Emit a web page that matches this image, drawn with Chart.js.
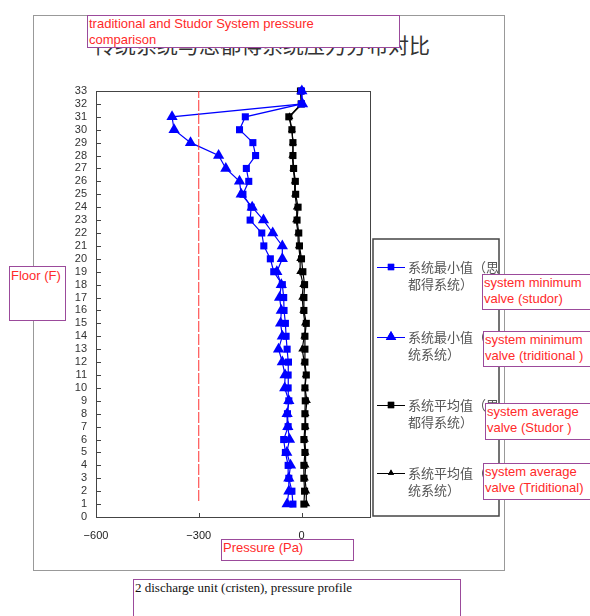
<!DOCTYPE html>
<html>
<head>
<meta charset="utf-8">
<script src="https://cdn.jsdelivr.net/npm/chart.js@4.4.1/dist/chart.umd.min.js"></script>
<style>
  html, body { margin: 0; padding: 0; background: #fff; }
  #wrap { position: relative; width: 590px; height: 616px; overflow: hidden; }
  #chart { position: absolute; left: 0; top: 0; }
  .frame { position: absolute; left: 33px; top: 15px; width: 470px; height: 554px; border: 1px solid #999; }
  .cn-title { position: absolute; left: 94px; top: 29px; font: 21px "Noto Sans CJK SC", sans-serif; color: #333; white-space: nowrap; }
  .note { position: absolute; background: #fff; border: 1.5px solid #9b4a9b; color: #ff2a2a;
          font: 13px "Liberation Sans", Arial, sans-serif; line-height: 16px; padding: 0 1px; box-sizing: border-box; white-space: nowrap; }
  .caption { position: absolute; left: 133px; top: 579px; width: 328px; height: 50px; border: 1.5px solid #9b4a9b; background: #fff;
             font: 13px "Liberation Serif", "Times New Roman", serif; color: #111; padding: 0 1px; box-sizing: border-box; }
</style>
</head>
<body>
<div id="wrap">
  <div class="frame"></div>
  <div class="cn-title">传统系统与思都得系统压力分布对比</div>
  <canvas id="chart" width="590" height="616"></canvas>
  <div class="note" style="left:87px;top:15px;width:313px;height:33px;">traditional and Studor System pressure<br>comparison</div>
  <div class="note" style="left:9px;top:266px;width:57px;height:55px;line-height:18px;">Floor (F)</div>
  <div class="note" style="left:221px;top:539px;width:133px;height:22px;">Pressure (Pa)</div>
  <div class="note" style="left:482px;top:274px;width:112px;height:36px;">system minimum<br>valve (studor)</div>
  <div class="note" style="left:483px;top:331px;width:112px;height:36px;">system minimum<br>valve (triditional )</div>
  <div class="note" style="left:485px;top:403px;width:110px;height:37px;">system average<br> valve (Studor )</div>
  <div class="note" style="left:483px;top:463px;width:112px;height:37px;">system average<br>valve (Triditional)</div>
  <div class="caption">2 discharge unit (cristen), pressure profile</div>
</div>
<script>
// floors 1..33 (bottom to top)
const floors = [1,2,3,4,5,6,7,8,9,10,11,12,13,14,15,16,17,18,19,20,21,22,23,24,25,26,27,28,29,30,31,32,33];

// system minimum, Studor (Pa)
const studorMin = [-25,-28,-37,-39,-47,-52,-39,-41,-37,-39,-39,-38,-42,-45,-47,-51,-52,-56,-81,-91,
                   -110,-116,-150,-147,-171,-154,-161,-134,-142,-181,-164,0,0];
// system minimum, traditional (Pa)
const tradMin = [-42,-37,-37,-32,-43,-35,-40,-42,-37,-49,-48,-56,-67,-56,-61,-59,-64,-59,-72,-56,
                 -56,-84,-111,-144,-176,-181,-221,-242,-324,-372,-378,3,1];
// system average, Studor (Pa)
const studorAvg = [7,9,7,7,10,7,10,10,11,10,14,10,10,10,14,7,7,9,4,0,
                   -6,-8,-13,-10,-17,-18,-23,-25,-25,-28,-37,-1,-3];
// system average, traditional (Pa)
const tradAvg = [14,14,10,12,12,10,12,12,16,10,12,8,2,8,10,5,2,5,-4,-4,
                 -8,-10,-16,-14,-19,-20,-24,-27,-25,-28,-35,1,-2];

// dashed reference line at -300 Pa
const limitX = [-300, -300];
const limitFloors = [1.24, 33];

const xTicks = [-600, -300, 0];
const legendLabels = [
  ['系统最小值（思', '都得系统）'],
  ['系统最小值（传', '统系统）'],
  ['系统平均值（思', '都得系统）'],
  ['系统平均值（传', '统系统）']
];

function pts(vals) { return floors.map((f, i) => ({ x: vals[i], y: f })); }

const series = [
  { data: pts(studorMin), color: '#0000ff', style: 'rect', r: 5, lr: 4.5 },
  { data: pts(tradMin), color: '#0000ff', style: 'triangle', r: 6.5, lr: 6 },
  { data: pts(studorAvg), color: '#000000', style: 'rect', r: 5, lr: 4.5 },
  { data: pts(tradAvg), color: '#000000', style: 'triangle', r: 4.5, lr: 3.5 }
];

const datasets = series.map((s, i) => ({
  label: legendLabels[i].join(''),
  data: s.data,
  showLine: true,
  borderColor: s.color,
  backgroundColor: s.color,
  borderWidth: 1.2,
  pointStyle: s.style,
  pointRadius: s.r,
  pointBorderWidth: 0,
  clip: false
}));

datasets.unshift({
  label: 'limit',
  data: limitX.map((v, i) => ({ x: v, y: limitFloors[i] })),
  showLine: true,
  borderColor: '#ff3030',
  borderWidth: 1,
  borderDash: [11, 2],
  pointRadius: 0
});

const boxPlugin = {
  id: 'boxPlugin',
  beforeDatasetsDraw(chart) {
    const { ctx, chartArea: a, scales } = chart;
    ctx.save();
    ctx.strokeStyle = '#444';
    ctx.lineWidth = 1;
    ctx.strokeRect(a.left + 0.5, a.top + 0.5, a.right - a.left, a.bottom - a.top);
    ctx.beginPath();
    // inward ticks
    scales.y.ticks.forEach(t => {
      const y = Math.round(scales.y.getPixelForValue(t.value)) + 0.5;
      ctx.moveTo(a.left, y); ctx.lineTo(a.left + 5, y);
    });
    xTicks.forEach(v => {
      const x = Math.round(scales.x.getPixelForValue(v)) + 0.5;
      ctx.moveTo(x, a.bottom); ctx.lineTo(x, a.bottom - 4);
    });
    ctx.stroke();
    ctx.restore();
  },
  afterDraw(chart) {
    const { ctx } = chart;
    ctx.save();
    ctx.strokeStyle = '#444';
    ctx.lineWidth = 1.5;
    ctx.strokeRect(373, 239, 126, 277);
    const rows = [267, 337, 405, 473];
    series.forEach((s, i) => {
      const y = rows[i];
      ctx.strokeStyle = s.color;
      ctx.lineWidth = 1;
      ctx.beginPath();
      ctx.moveTo(377, y + 0.5); ctx.lineTo(405, y + 0.5);
      ctx.stroke();
      ctx.fillStyle = s.color;
      Chart.helpers.drawPoint(ctx, { pointStyle: s.style, radius: s.lr, borderWidth: 0, rotation: 0 }, 391, y);
      ctx.fill();
      ctx.fillStyle = '#555';
      ctx.font = '13px "Noto Sans CJK SC", sans-serif';
      ctx.textBaseline = 'middle';
      ctx.fillText(legendLabels[i][0], 408, y);
      ctx.fillText(legendLabels[i][1], 408, y + 17);
    });
    ctx.restore();
  }
};

new Chart(document.getElementById('chart'), {
  type: 'scatter',
  data: { datasets },
  options: {
    responsive: false,
    animation: false,
    events: [],
    layout: { padding: { left: 60, top: 91, right: 220, bottom: 69 } },
    plugins: { legend: { display: false }, tooltip: { enabled: false } },
    scales: {
      x: {
        type: 'linear', min: -600, max: 200,
        afterFit(s) { s.height = 30; },
        afterBuildTicks(s) { s.ticks = xTicks.map(v => ({ value: v })); },
        grid: { display: false, drawTicks: false },
        border: { display: false },
        ticks: {
          padding: 12, color: '#222', font: { family: 'Liberation Sans, Arial', size: 11 },
          maxRotation: 0,
          callback: v => (v < 0 ? '\u2212' + Math.abs(v) : String(v))
        }
      },
      y: {
        type: 'linear', min: 0, max: 33,
        afterFit(s) { s.width = 36; },
        grid: { display: false, drawTicks: false },
        border: { display: false },
        ticks: {
          stepSize: 1, autoSkip: false, padding: 9, color: '#333',
          font: { family: 'Liberation Sans, Arial', size: 11 }
        }
      }
    }
  },
  plugins: [boxPlugin]
});
</script>
</body>
</html>
